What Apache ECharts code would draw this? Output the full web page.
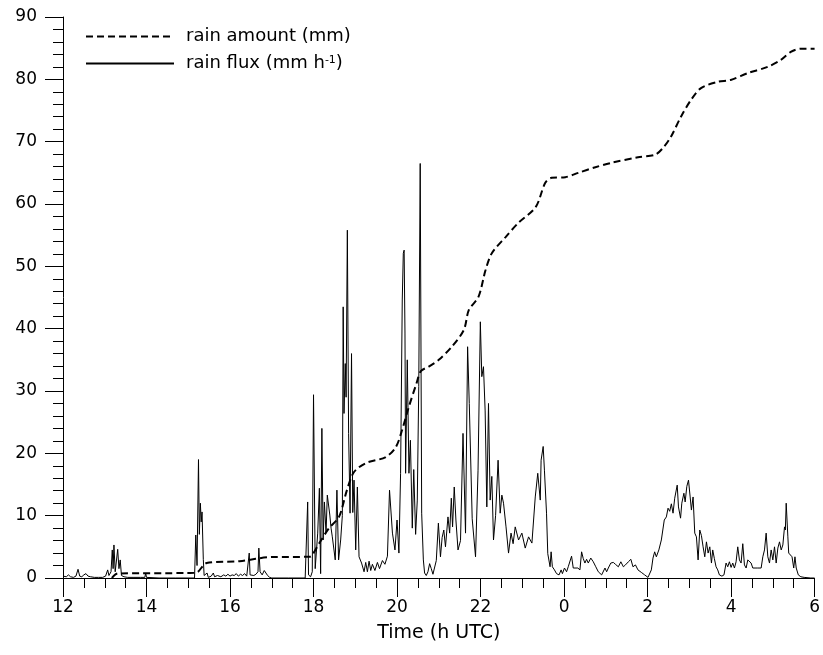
<!DOCTYPE html>
<html>
<head>
<meta charset="utf-8">
<script src="https://cdn.jsdelivr.net/npm/echarts@6/dist/echarts.min.js"></script>
<style>html,body{margin:0;padding:0;background:#fff}#chart{width:823px;height:655px}</style>
</head>
<body>
<div id="chart"></div>
<script>
// Time axis (hours since 00 UTC of first day; 24+ = next day)
const xTicks = [12, 14, 16, 18, 20, 22, 24, 26, 28, 30];
const yTicks = [0, 10, 20, 30, 40, 50, 60, 70, 80, 90];
const seriesNames = ['rain amount (mm)', 'rain flux (mm h-1)'];

const amountHours = [13.17, 13.31, 15.03, 15.2, 15.44, 16.23, 17.01, 17.9, 17.97, 18.14, 18.37, 18.61, 18.80, 18.97, 19.26, 19.73, 19.97, 20.12, 20.28, 20.47, 20.57, 20.76, 21.0, 21.31, 21.60, 21.72, 21.95, 22.12, 22.27, 22.60, 22.91, 23.32, 23.55, 23.70, 24.03, 24.34, 24.75, 25.13, 25.77, 26.18, 26.37, 26.56, 26.80, 27.04, 27.28, 27.68, 27.99, 28.40, 28.88, 29.19, 29.43, 29.67, 30.0];
const amountValues = [0, 0.72, 0.8, 0.88, 2.4, 2.7, 3.37, 3.4, 3.7, 5.6, 8.0, 9.8, 14.1, 17.0, 18.45, 19.4, 21.0, 23.7, 27.4, 31.3, 33.2, 33.9, 35.0, 37.1, 39.8, 43.0, 45.1, 49.4, 52.1, 54.7, 57.0, 59.5, 63.4, 64.2, 64.3, 65.0, 65.9, 66.6, 67.5, 67.9, 69.0, 70.8, 74.0, 76.7, 78.6, 79.6, 79.9, 81.0, 82.0, 83.1, 84.4, 84.9, 84.9];

const fluxHours = [12.00,12.04,12.08,12.13,12.18,12.25,12.31,12.36,12.40,12.45,12.50,12.55,12.60,12.66,12.75,12.85,12.95,13.02,13.07,13.10,13.15,13.18,13.20,13.22,13.25,13.28,13.31,13.34,13.37,13.40,13.46,13.55,13.70,13.85,13.96,13.98,14.00,14.30,14.70,15.15,15.18,15.21,15.245,15.265,15.29,15.31,15.33,15.36,15.38,15.42,15.45,15.48,15.55,15.60,15.63,15.70,15.78,15.85,15.90,15.95,16.00,16.05,16.10,16.15,16.20,16.25,16.30,16.35,16.40,16.44,16.46,16.48,16.52,16.57,16.62,16.67,16.69,16.72,16.77,16.82,16.86,16.90,16.95,17.00,17.40,17.80,17.84,17.86,17.88,17.93,17.97,18.00,18.04,18.10,18.14,18.17,18.20,18.23,18.26,18.30,18.33,18.39,18.42,18.45,18.52,18.56,18.60,18.65,18.69,18.71,18.73,18.76,18.78,18.81,18.84,18.875,18.91,18.94,18.97,19.01,19.05,19.09,19.15,19.21,19.25,19.29,19.33,19.37,19.41,19.47,19.53,19.58,19.65,19.71,19.77,19.82,19.89,19.95,20.00,20.045,20.085,20.125,20.15,20.17,20.19,20.205,20.245,20.285,20.32,20.365,20.40,20.445,20.485,20.52,20.555,20.59,20.63,20.66,20.70,20.74,20.78,20.82,20.86,20.90,20.94,20.99,21.04,21.08,21.12,21.16,21.22,21.26,21.30,21.33,21.37,21.41,21.46,21.52,21.58,21.64,21.69,21.73,21.80,21.88,21.94,21.995,22.03,22.07,22.11,22.15,22.19,22.23,22.27,22.31,22.36,22.42,22.47,22.51,22.55,22.61,22.67,22.73,22.78,22.83,22.91,22.99,23.07,23.15,23.23,23.31,23.37,23.43,23.45,23.50,23.53,23.58,23.61,23.665,23.69,23.72,23.77,23.82,23.88,23.93,23.96,24.01,24.06,24.10,24.14,24.18,24.22,24.26,24.33,24.38,24.42,24.46,24.50,24.54,24.58,24.64,24.70,24.76,24.82,24.90,24.98,25.02,25.06,25.12,25.18,25.23,25.30,25.36,25.42,25.47,25.54,25.60,25.65,25.71,25.77,25.85,25.93,26.01,26.09,26.13,26.17,26.21,26.27,26.33,26.40,26.45,26.49,26.53,26.57,26.61,26.65,26.71,26.74,26.79,26.82,26.87,26.90,26.94,26.98,27.02,27.05,27.09,27.13,27.17,27.21,27.25,27.29,27.33,27.37,27.41,27.45,27.49,27.53,27.56,27.60,27.64,27.68,27.72,27.78,27.83,27.88,27.92,27.96,28.00,28.04,28.08,28.12,28.16,28.20,28.24,28.28,28.32,28.36,28.40,28.44,28.48,28.52,28.56,28.64,28.68,28.72,28.76,28.80,28.84,28.88,28.92,28.96,29.00,29.04,29.08,29.12,29.16,29.20,29.24,29.28,29.30,29.32,29.36,29.38,29.42,29.46,29.50,29.53,29.56,29.61,29.67,29.75,29.91,30.00];
const fluxValues = [0.3,0.6,0.2,0.5,0.2,0.1,0.3,1.4,0.3,0.2,0.5,0.7,0.3,0.2,0.1,0.1,0.1,0.3,1.3,0.4,1.0,4.5,1.5,5.3,1.0,0.8,4.6,1.5,2.9,0.4,0.2,0.1,0.1,0.1,0.1,0.8,0.1,0.0,0.0,0.0,6.9,2.0,19.0,7.0,12.0,9.0,10.6,3.0,0.4,0.2,0.8,0.1,0.3,0.8,0.2,0.4,0.2,0.5,0.3,0.6,0.3,0.5,0.4,0.7,0.3,0.6,0.4,0.7,0.3,0.5,4.0,0.5,0.8,0.4,0.6,1.0,4.8,1.0,0.5,1.2,1.5,0.4,0.1,0.0,0.0,0.0,0.3,12.2,0.5,0.2,1.0,29.4,1.5,7.2,14.4,0.7,24.0,6.1,12.2,7.2,13.3,10.1,8.0,6.6,2.9,14.1,2.9,6.1,10.0,43.5,26.4,34.4,29.0,55.8,23.2,10.4,36.0,10.5,15.7,4.5,14.6,3.4,2.4,1.0,2.5,1.0,2.7,1.2,2.2,1.2,2.5,1.5,2.8,2.2,3.5,14.1,7.2,4.5,9.3,4.0,16.8,44.6,52.1,52.6,39.3,16.8,35.0,16.8,22.1,8.0,17.4,7.0,12.5,30.7,66.5,10.4,2.9,0.8,0.4,1.0,2.3,1.5,0.6,0.8,2.8,8.8,3.4,6.5,7.7,5.0,9.8,7.2,12.8,8.2,14.6,9.3,4.5,6.0,23.2,7.2,37.1,28.0,9.5,3.4,17.3,41.1,32.3,33.9,26.8,11.4,28.0,12.5,16.3,6.1,10.0,18.9,10.4,13.3,12.0,8.2,4.0,7.2,5.5,8.2,6.1,7.2,4.8,6.6,5.6,13.0,16.8,12.5,18.9,21.1,17.3,10.4,3.9,1.8,4.2,1.8,1.3,0.7,0.5,1.3,0.7,1.6,1.0,1.8,1.6,3.5,1.6,1.8,1.6,1.3,4.2,3.1,2.4,3.0,2.4,3.2,2.6,1.8,1.0,0.5,1.6,1.0,1.6,2.4,2.5,2.2,1.8,2.6,1.8,2.1,2.6,3.0,1.8,2.1,1.3,0.9,0.5,0.1,1.3,3.2,4.2,3.4,4.5,6.1,9.3,9.8,11.2,10.7,11.9,10.4,12.8,14.9,11.4,9.6,12.0,13.6,12.2,14.7,15.7,13.0,10.9,13.0,7.2,6.6,2.9,7.7,6.8,5.0,3.4,5.8,4.0,5.0,2.4,4.5,3.1,1.8,1.3,0.5,0.3,0.5,2.4,1.8,2.6,1.7,2.4,1.6,2.6,5.0,2.9,2.4,5.5,2.1,1.6,2.9,3.2,2.4,1.6,1.8,1.6,1.8,1.6,3.4,4.5,7.2,3.4,2.4,4.5,2.9,5.0,2.4,4.8,5.8,4.5,5.3,8.2,7.7,12.0,6.6,4.0,3.7,3.4,1.6,3.4,1.6,0.5,0.2,0.1,0.0,0.0];

const amountData = amountHours.map((t, i) => [t, amountValues[i]]);
const fluxData = fluxHours.map((t, i) => [t, fluxValues[i]]);

const FONT = "'DejaVu Sans', 'Liberation Sans', Arial, sans-serif";
const chart = echarts.init(document.getElementById('chart'), null, {renderer: 'canvas'});
chart.setOption({
  animation: false,
  backgroundColor: '#fff',
  textStyle: {fontFamily: FONT},
  grid: {left: 63, right: 6, top: 17, bottom: 77, containLabel: false},
  legend: {
    orient: 'vertical',
    left: 85,
    top: 27,
    padding: 0,
    itemWidth: 88,
    itemHeight: 14,
    itemGap: 8,
    selectedMode: false,
    data: seriesNames,
    itemStyle: {opacity: 0},
    formatter: function (name) {
      if (name === seriesNames[1]) return 'rain flux (mm h{sup|-1})';
      return name;
    },
    textStyle: {
      fontFamily: FONT, fontSize: 18, lineHeight: 19, color: '#000', padding: [0, 0, 0, 7],
      rich: {sup: {fontFamily: FONT, fontSize: 11, lineHeight: 19, color: '#000', padding: [0, 0, 6, 0]}}
    }
  },
  xAxis: {
    type: 'value',
    min: xTicks[0],
    max: xTicks[xTicks.length - 1],
    interval: 2,
    name: 'Time (h UTC)',
    nameLocation: 'middle',
    nameGap: 46,
    nameTextStyle: {fontFamily: FONT, fontSize: 19, color: '#000'},
    axisLine: {show: true, lineStyle: {color: '#000', width: 1}},
    axisTick: {show: true, inside: false, length: 19, lineStyle: {color: '#000'}},
    minorTick: {show: true, splitNumber: 4, length: 10, lineStyle: {color: '#000'}},
    axisLabel: {fontFamily: FONT, fontSize: 17, color: '#000', margin: 21,
      formatter: v => String(v % 24)},
    splitLine: {show: false}
  },
  yAxis: {
    type: 'value',
    min: yTicks[0],
    max: yTicks[yTicks.length - 1],
    interval: 10,
    axisLine: {show: true, lineStyle: {color: '#000', width: 1}},
    axisTick: {show: true, inside: false, length: 18, lineStyle: {color: '#000'}},
    minorTick: {show: true, splitNumber: 5, length: 10, lineStyle: {color: '#000'}},
    axisLabel: {fontFamily: FONT, fontSize: 17, color: '#000', margin: 26},
    splitLine: {show: false}
  },
  series: [
    {
      name: seriesNames[0],
      type: 'line',
      data: amountData,
      symbol: 'none',
      smooth: 0.3,
      lineStyle: {color: '#000', width: 2, type: [7, 4]},
      itemStyle: {color: '#000'},
      z: 3
    },
    {
      name: seriesNames[1],
      type: 'line',
      data: fluxData,
      symbol: 'none',
      lineStyle: {color: '#000', width: 1},
      itemStyle: {color: '#000'},
      z: 2
    }
  ]
});
</script>
</body>
</html>
